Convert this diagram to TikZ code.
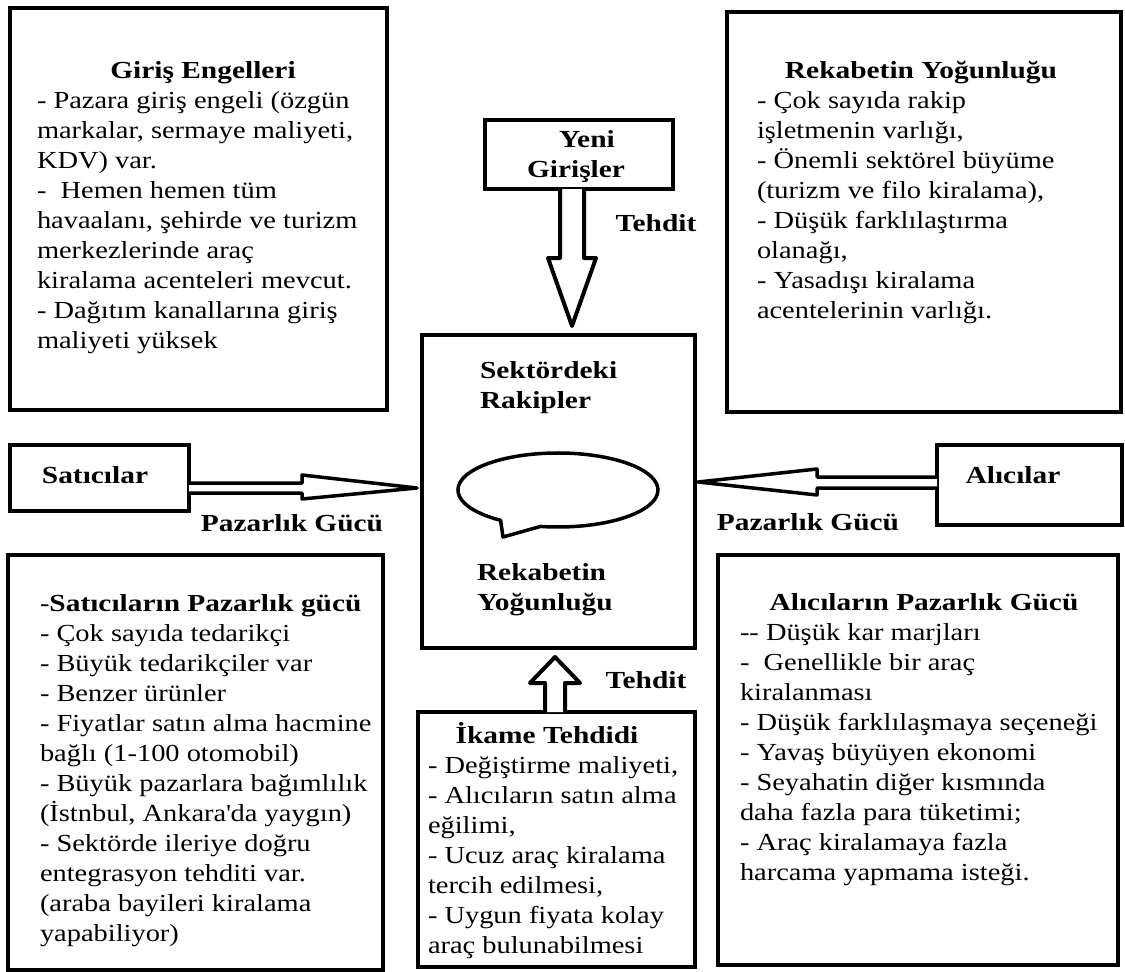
\documentclass[tikz,border=0pt]{standalone}
\usepackage{fontspec}
\setmainfont{Liberation Serif}[UprightFeatures={FakeStretch=1.16}, BoldFeatures={FakeStretch=1.2}]
\usetikzlibrary{calc}
\newcommand\bodyfs{\fontsize{24.5}{30}\selectfont}

\begin{document}
\begin{tikzpicture}[x=1pt,y=-1pt,
  frame/.style={draw, line width=4.5pt, inner sep=0pt, outer sep=0pt},
  txt/.style={inner sep=0pt, outer sep=0pt, font=\bodyfs},
  body/.style={txt, align=left, anchor=north west},
  bbody/.style={body, font=\bodyfs\bfseries},
  head/.style={txt, font=\bodyfs\bfseries, anchor=base},
  hollow/.style={draw, fill=white, line width=4pt, line join=round},
  thinhollow/.style={hollow, line width=3.5pt},
  bubble/.style={draw, line width=3.5pt, line join=round}]

\path[use as bounding box, fill=white] (0,0) rectangle (1125,972);

% ---------- frames ----------
\node[frame, minimum width=377pt, minimum height=402pt] (entry)   at (198.5,209)   {};
\node[frame, minimum width=394pt, minimum height=400pt] (rivalry) at (924,212)     {};
\node[frame, minimum width=188pt, minimum height=69pt]  (newin)   at (579,154.5)   {};
\node[frame, minimum width=273pt, minimum height=313pt] (core)    at (558.5,491.5) {};
\node[frame, minimum width=179pt, minimum height=66pt]  (sell)    at (99.5,478)    {};
\node[frame, minimum width=185pt, minimum height=80pt]  (buy)     at (1029.5,485)  {};
\node[frame, minimum width=375pt, minimum height=415pt] (sellpow) at (195.5,762.5) {};
\node[frame, minimum width=277pt, minimum height=255pt] (subst)   at (556.5,839.5) {};
\node[frame, minimum width=400pt, minimum height=410pt] (buypow)  at (918,760)     {};

% ---------- top left: barriers to entry ----------
\node[head] (entryT) at (203,78) {Giriş Engelleri};
\node[body] (entryB) at (37,87) {\strut - Pazara giriş engeli (özgün\\
markalar, sermaye maliyeti,\\
KDV) var.\\
- \ Hemen hemen tüm\\
havaalanı, şehirde ve turizm\\
merkezlerinde araç\\
kiralama acenteleri mevcut.\\
- Dağıtım kanallarına giriş\\
maliyeti yüksek};

% ---------- top right: rivalry ----------
\node[head] (rivalryT) at (921,78) {Rekabetin Yoğunluğu};
\node[body] (rivalryB) at (757,87) {\strut - Çok sayıda rakip\\
işletmenin varlığı,\\
- Önemli sektörel büyüme\\
(turizm ve filo kiralama),\\
- Düşük farklılaştırma\\
olanağı,\\
- Yasadışı kiralama\\
acentelerinin varlığı.};

% ---------- new entrants ----------
\node[txt, font=\bodyfs\bfseries, align=center, anchor=north] (newinT) at (576,126)
  {\strut\hspace*{22pt}Yeni\\Girişler};
\coordinate (tipN) at (572,326);
\draw[hollow] ([xshift=-19pt]newin.south) -- ++(0,69) -- ++(-12,0) -- (tipN)
  -- ++(24,-68) -- ++(-12,0) -- ([xshift=5pt]newin.south);
\node[head] (threatN) at (656,231) {Tehdit};

% ---------- centre ----------
\node[bbody] (coreA) at (480,357) {\strut Sektördeki\\Rakipler};
\node[bbody] (coreB) at (477,559) {\strut Rekabetin\\Yoğunluğu};
\coordinate (bubC) at (558,490);
\draw[bubble] ($(bubC)+(-57.4,30.3)$)
  arc[start angle=125, end angle=460, x radius=100, y radius=37]
  -- (503,537) -- cycle;

% ---------- sellers ----------
\node[head] (sellT) at (95,483) {Satıcılar};
\coordinate (tipW) at (417,488);
\draw[thinhollow] ([yshift=-5pt]sell.east) -- ++(113,0) -- ++(0,-8) -- (tipW)
  -- ++(-115,11) -- ++(0,-6) -- ([yshift=-15pt]sell.east);
\node[head] (sellL) at (292,531) {Pazarlık Gücü};

% ---------- buyers ----------
\node[head] (buyT) at (1013,483) {Alıcılar};
\coordinate (tipE) at (698,482);
\draw[thinhollow] ([yshift=8pt]buy.west) -- ++(-120,0) -- ++(0,-8) -- (tipE)
  -- ++(119,13) -- ++(0,-7) -- ([yshift=-3pt]buy.west);
\node[head] (buyL) at (808,530) {Pazarlık Gücü};

% ---------- substitutes ----------
\coordinate (tipS) at (555,657);
\draw[hollow] ([xshift=-11.5pt]subst.north) -- ++(0,-29) -- ++(-15,0) -- (tipS)
  -- ++(25,26) -- ++(-15,0) -- ([xshift=8.5pt]subst.north);
\node[head] (threatS) at (646,688) {Tehdit};
\node[head] (substT) at (547,743) {İkame Tehdidi};
\node[body] (substB) at (428,752) {\strut - Değiştirme maliyeti,\\
- Alıcıların satın alma\\
eğilimi,\\
- Ucuz araç kiralama\\
tercih edilmesi,\\
- Uygun fiyata kolay\\
araç bulunabilmesi};

% ---------- bottom left: supplier power ----------
\node[body] (sellpowB) at (40,590) {\strut -{\bfseries Satıcıların Pazarlık gücü}\\
- Çok sayıda tedarikçi\\
- Büyük tedarikçiler var\\
- Benzer ürünler\\
- Fiyatlar satın alma hacmine\\
bağlı (1-100 otomobil)\\
- Büyük pazarlara bağımlılık\\
(İstnbul, Ankara\textquotesingle da yaygın)\\
- Sektörde ileriye doğru\\
entegrasyon tehditi var.\\
(araba bayileri kiralama\\
yapabiliyor)};

% ---------- bottom right: buyer power ----------
\node[head] (buypowT) at (924,610) {Alıcıların Pazarlık Gücü};
\node[body] (buypowB) at (740,619) {\strut -{}- Düşük kar marjları\\
- \ Genellikle bir araç\\
kiralanması\\
- Düşük farklılaşmaya seçeneği\\
- Yavaş büyüyen ekonomi\\
- Seyahatin diğer kısmında\\
daha fazla para tüketimi;\\
- Araç kiralamaya fazla\\
harcama yapmama isteği.};

\end{tikzpicture}
\end{document}
